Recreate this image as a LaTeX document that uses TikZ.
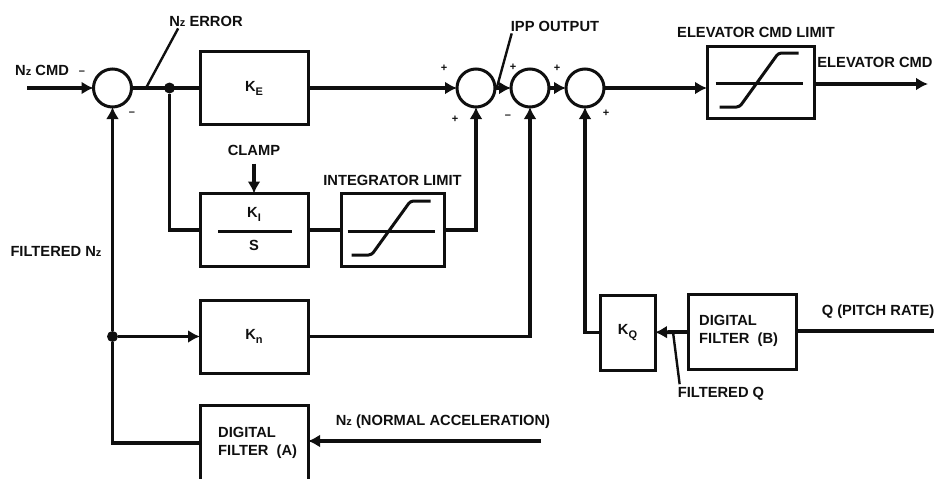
\documentclass[tikz,border=0pt]{standalone}
\usepackage{fontspec}
\setmainfont{Liberation Sans}
\usetikzlibrary{arrows.meta,positioning}
\definecolor{inkblack}{RGB}{15,15,15}
\newcommand{\Nz}{N{\fontsize{11}{12}\selectfont z}}
\newcommand{\gainsym}[1]{K\raisebox{-4pt}{\fontsize{11}{12}\selectfont #1}}
\newcommand{\satcurve}[1]{%
  \draw[satline] ([shift={(-45pt,-1pt)}]#1.center) -- ([shift={(42pt,-1pt)}]#1.center);
  \draw[satline,rounded corners=3pt] ([shift={(-41pt,-25pt)}]#1.center) -- ([shift={(-21pt,-25pt)}]#1.center)
    -- ([shift={(18pt,29pt)}]#1.center) -- ([shift={(38pt,29pt)}]#1.center);}
\begin{document}
\begin{tikzpicture}[
      x=1pt,y=1pt,
      font=\bfseries\fontsize{14.7}{18}\selectfont,
      wire/.style={draw=inkblack,line width=3.8pt},
      arr/.style={wire,-{Latex[length=12pt,width=13pt]}},
      leader/.style={draw=inkblack,line width=2.4pt},
      satline/.style={draw=inkblack,line width=3pt},
      sumnode/.style={circle,draw=inkblack,line width=3pt,minimum size=38pt,inner sep=0pt,outer sep=0pt},
      gainbox/.style={rectangle,draw=inkblack,line width=3pt,minimum width=108pt,minimum height=73pt,
                      inner sep=0pt,outer sep=0pt,align=left,text=inkblack},
      dotnode/.style={circle,fill=inkblack,minimum size=11pt,inner sep=0pt,outer sep=0pt},
      lbl/.style={inner sep=0pt,text=inkblack},
      sgn/.style={inner sep=0pt,text=inkblack,font=\bfseries\fontsize{11}{12}\selectfont}
    ]
    \useasboundingbox (0,0) rectangle (934,-479);
    % forward path
    \node[sumnode] (sumerr) at (112.5,-88) {};
    \node[gainbox,right=68.5pt of sumerr] (ke) {\gainsym{E}};
    \node[sumnode,right=149pt of ke] (sumipp) {};
    \node[sumnode,right=16pt of sumipp] (sumn) {};
    \node[sumnode,right=17pt of sumn] (sumq) {};
    \node[gainbox,minimum width=107pt,minimum height=72pt] (elevlim) at (760.5,-82) {};
    \coordinate (elevout) at (928,-84);
    \satcurve{elevlim}
    \node[dotnode,right=32.5pt of sumerr] (errjoin) {};

    % integrator branch
    \node[gainbox,below=69pt of ke] (ki) {};
    \draw[satline] ([xshift=-36pt,yshift=-1pt]ki.center) -- ([xshift=38pt,yshift=-1pt]ki.center);
    \node[lbl,above=8pt of ki.center] (kisym) {\gainsym{I}};
    \node[lbl,below=10pt of ki.center] (kis) {S};
    \node[gainbox,right=33pt of ki,minimum width=103pt] (intlim) {};
    \satcurve{intlim}
    \node[lbl,above=38pt of ki] (clamp) {CLAMP};
    \node[lbl,above=8pt of intlim] (intlbl) {INTEGRATOR LIMIT};

    % normal accel feedback
    \node[gainbox,below=33pt of ki,yshift=-0.5pt] (kn) {\gainsym{n}};
    \node[dotnode] (fbjoin) at (sumerr |- kn) {};
    \node[gainbox,below=32pt of kn,minimum height=80pt] (filta) {};
    \node[lbl,align=left,anchor=west] (filtatxt) at (218,-443) {DIGITAL\\FILTER\ \ (A)};
    \coordinate (nzin) at (541,-441);

    % pitch rate path
    \node[gainbox,minimum width=55pt,minimum height=75pt] (kq) at (627.5,-332.5) {\gainsym{Q}};
    \node[gainbox,minimum height=75pt] (filtb) at (742,-331.5) {};
    \node[lbl,align=left,anchor=west] (filtbtxt) at (699,-331) {DIGITAL\\FILTER\ \ (B)};
    \coordinate (qin) at (934,-331);
    \coordinate (qtap) at (673,-332);
    \coordinate (cmdin) at (27,-88);

    % connectors
    \draw[arr] (cmdin) -- (sumerr);
    \draw[wire] (sumerr) -- (ke);
    \draw[arr] (ke) -- (sumipp);
    \draw[arr] (sumipp) -- (sumn);
    \draw[arr] (sumn) -- (sumq);
    \draw[arr] (sumq.east) -- (elevlim.west |- sumq.east);
    \draw[arr] (elevlim.east |- elevout) -- (elevout);
    \draw[wire] (errjoin) |- (ki);
    \draw[wire] (ki) -- (intlim);
    \draw[arr] (intlim) -| (sumipp);
    \draw[arr] ([yshift=-8pt]clamp.south) -- (ki.north);
    \draw[arr] (fbjoin) -- (kn);
    \draw[arr] (kn) -| (sumn);
    \draw[wire] (filta.west |- 0,-443) -| (fbjoin);
    \draw[arr] (fbjoin) -- (sumerr);
    \draw[arr] (nzin) -- (filta.east |- nzin);
    \draw[arr] (kq) -| (sumq);
    \draw[arr] (filtb) -- (kq);
    \draw[wire] (qin) -- (filtb.east |- qin);

    % text labels
    \node[lbl,anchor=west] (cmdlbl) at (15,-70) {\Nz{} CMD};
    \node[lbl] (errlbl) at (206,-21) {\Nz{} ERROR};
    \node[lbl] (ipplbl) at (555,-26) {IPP OUTPUT};
    \node[lbl] (elevlimlbl) at (756,-32) {ELEVATOR CMD LIMIT};
    \node[lbl] (elevlbl) at (875,-62) {ELEVATOR CMD};
    \node[lbl] (fltlbl) at (56,-251) {FILTERED \Nz};
    \node[lbl] (nzlbl) at (443,-422) {\Nz{} (NORMAL ACCELERATION)};
    \node[lbl] (qlbl) at (878,-312) {Q (PITCH RATE)};
    \node[lbl] (fqlbl) at (721,-394) {FILTERED Q};

    % pointers
    \coordinate (errtap) at (146,-88);
    \coordinate (ipptap) at (497,-87);
    \draw[leader] ([xshift=9pt,yshift=-2pt]errlbl.south west) -- (errtap);
    \draw[leader] ([xshift=1pt,yshift=-2pt]ipplbl.south west) -- (ipptap);
    \draw[leader] ([shift={(2pt,3pt)}]fqlbl.north west) -- (qtap);

    % signs
    \node[sgn] (s1) at (82,-73) {--};
    \node[sgn] (s2) at (132,-114) {--};
    \node[sgn] (s3) at (444,-68) {+};
    \node[sgn] (s4) at (455,-119) {+};
    \node[sgn] (s5) at (513,-67) {+};
    \node[sgn] (s6) at (508,-117) {--};
    \node[sgn] (s7) at (557,-68) {+};
    \node[sgn] (s8) at (606,-113) {+};
  \end{tikzpicture}
\end{document}
